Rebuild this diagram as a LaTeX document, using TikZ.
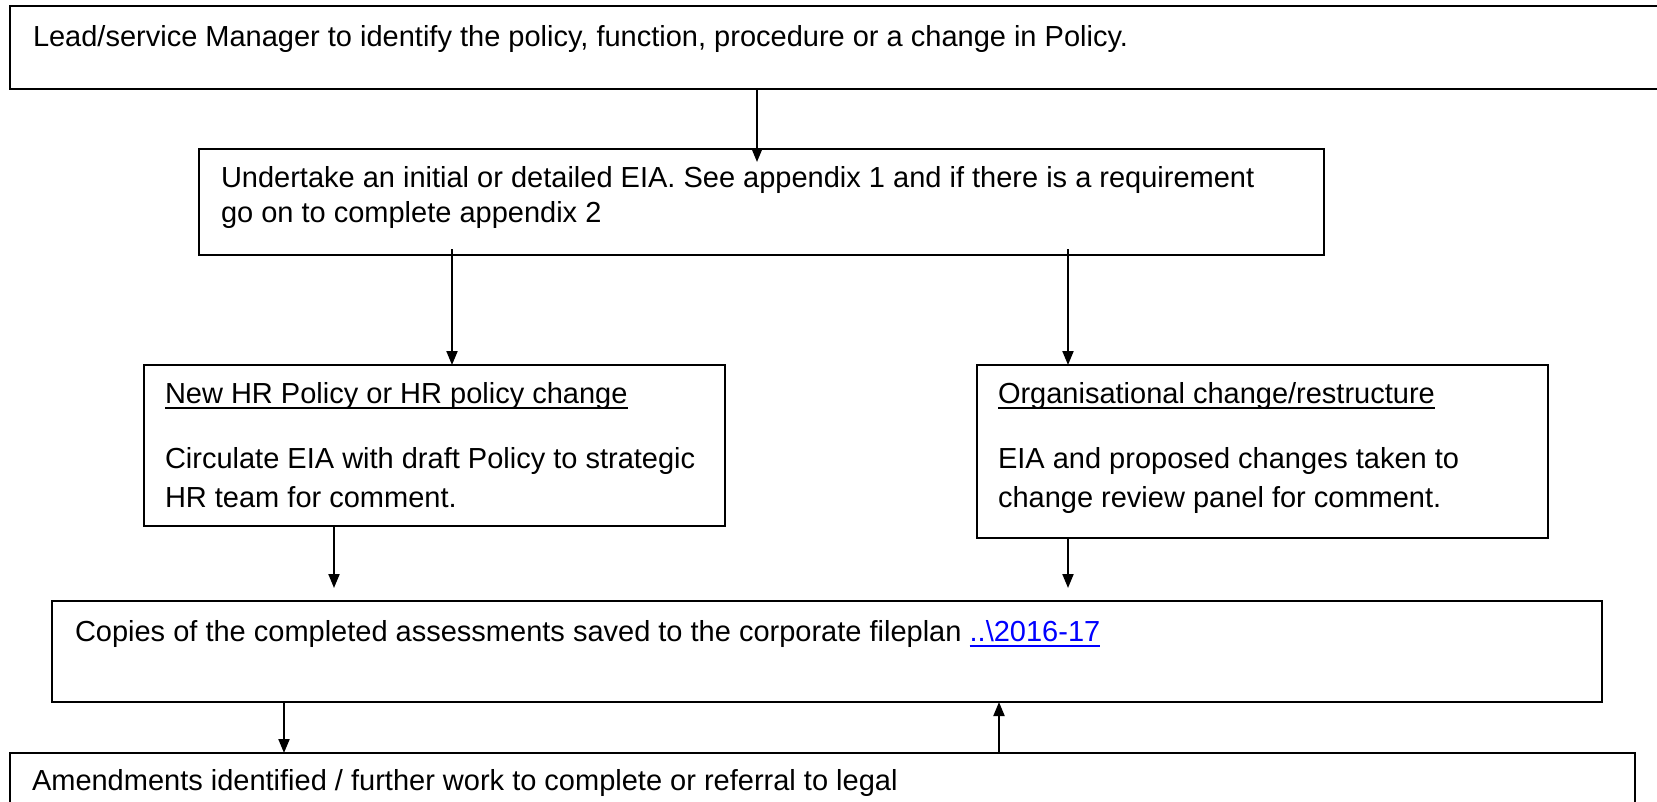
\documentclass[tikz,border=0pt]{standalone}
\usepackage{fontspec}
\setmainfont{Liberation Sans}
\usetikzlibrary{arrows.meta}
\definecolor{linkblue}{RGB}{0,0,255}
\newcommand\myul[1]{\setbox0\hbox{#1}\rlap{\rule[-6pt]{\wd0}{2pt}}\box0}
\begin{document}
\begin{tikzpicture}[x=1pt,y=-1pt,
  box/.style={draw=black, line width=2pt, inner sep=0pt, outer sep=0pt, anchor=north west},
  txt/.style={anchor=base west, inner sep=0pt, outer sep=0pt, font=\fontsize{29}{35}\selectfont},
  arr/.style={line width=2pt, -{Triangle[length=14pt,width=11pt]}}]
\useasboundingbox (0,0) rectangle (1657,801);
\fill[white] (0,0) rectangle (1657,801);
\clip (0,0) rectangle (1657,801);
% boxes
\node[box, minimum width=1700pt, minimum height=83pt] (top) at (10,6) {};
\node[box, minimum width=1125pt, minimum height=106pt] (b2) at (199,149) {};
\node[box, minimum width=581pt, minimum height=161pt] (hr) at (144,365) {};
\node[box, minimum width=571pt, minimum height=173pt] (org) at (977,365) {};
\node[box, minimum width=1550pt, minimum height=101pt] (cp) at (52,601) {};
\node[box, minimum width=1625pt, minimum height=100pt] (am) at (10,753) {};
% texts
\node[txt] (t1) at (33,46) {Lead/service Manager to identify the policy, function, procedure or a change in Policy.};
\node[txt] (t2a) at (221,187) {Undertake an initial or detailed EIA. See appendix 1 and if there is a requirement};
\node[txt] (t2b) at (221,222) {go on to complete appendix 2};
\node[txt] (hr1) at (165,403) {\myul{New HR Policy or HR policy change}};
\node[txt] (hr2) at (165,468) {Circulate EIA with draft Policy to strategic};
\node[txt] (hr3) at (165,507) {HR team for comment.};
\node[txt] (org1) at (998,403) {\myul{Organisational change/restructure}};
\node[txt] (org2) at (998,468) {EIA and proposed changes taken to};
\node[txt] (org3) at (998,507) {change review panel for comment.};
\node[txt] (cp1) at (75,641) {Copies of the completed assessments saved to the corporate fileplan {\color{linkblue}\myul{..\textbackslash 2016-17}}};
\node[txt] (am1) at (32,790) {Amendments identified / further work to complete or referral to legal};
% connectors
\coordinate (a1) at (757,162);
\coordinate (xL) at (452,0);
\coordinate (xR) at (1068,0);
\coordinate (a3) at (334,588);
\coordinate (a4) at (1068,588);
\coordinate (xD) at (284,0);
\coordinate (xU) at (999,0);
\draw[arr] (top.south -| a1) -- (a1);
\draw[arr] ([yshift=6pt]b2.south -| xL) -- (hr.north -| xL);
\draw[arr] ([yshift=6pt]b2.south -| xR) -- (org.north -| xR);
\draw[arr] (hr.south -| a3) -- (a3);
\draw[arr] (org.south -| a4) -- (a4);
\draw[arr] (cp.south -| xD) -- (am.north -| xD);
\draw[arr] (am.north -| xU) -- (cp.south -| xU);
\end{tikzpicture}
\end{document}
